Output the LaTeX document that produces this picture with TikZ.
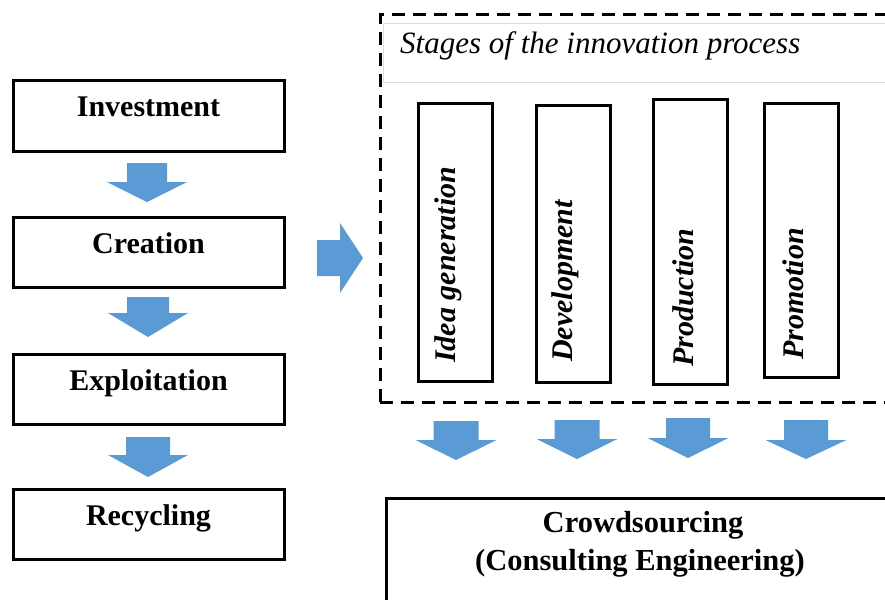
\documentclass[tikz,border=0pt]{standalone}
\usepackage{fontspec}
\setmainfont{Liberation Serif}
\definecolor{arrowblue}{HTML}{5B9BD5}
\definecolor{boxgrey}{HTML}{DDDDDD}
% block arrow pointing down: name, cx, top, stem half width, head start, head half width, tip
\newcommand{\blkdown}[7]{%
  \fill[blockarrow] ({#2-#4},#3) -- ({#2+#4},#3) -- ({#2+#4},#5) -- ({#2+#6},#5)
    -- (#2,#7) coordinate (#1) -- ({#2-#6},#5) -- ({#2-#4},#5) -- cycle;}
\begin{document}
\begin{tikzpicture}[x=1pt,y=-1pt,
  leftbox/.style={draw, line width=3pt, inner sep=0pt, text width=271pt, align=center,
    text height=36pt, text depth=34pt, anchor=base,
    font=\fontsize{30}{36}\selectfont\bfseries},
  stagebox/.style={draw, line width=2.6pt, minimum width=74.4pt, inner sep=0pt},
  vlbl/.style={font=\fontsize{30}{36}\selectfont\bfseries\itshape, rotate=90,
    anchor=base west, inner sep=0pt},
  lbl/.style={font=\fontsize{30.5}{36}\selectfont\bfseries, anchor=base, inner sep=0pt},
  dashframe/.style={line width=3pt, dash pattern=on 13pt off 8pt},
  blockarrow/.style={fill=arrowblue}]
\useasboundingbox (0,0) rectangle (885,599);
\clip (0,0) rectangle (885,599);

% left column
\node[leftbox] (inv) at (148.5,117) {Investment};
\node[leftbox] (cre) at (148.5,253) {Creation};
\node[leftbox] (exp) at (148.5,390) {Exploitation};
\node[leftbox] (rec) at (148.5,525) {Recycling};

\blkdown{a1}{147}{163}{20}{182}{40}{202}
\blkdown{a2}{148}{297}{21}{313}{40}{337}
\blkdown{a3}{148}{437}{22}{455}{40}{477}

% right arrow
\fill[blockarrow] (317,240) -- (340,240) -- (340,223) -- (363,258) coordinate (ar)
  -- (340,293) -- (340,276) -- (317,276) -- cycle;

% dashed frame
\draw[dashframe] (380,402) -- (380,15) -- (900,15);
\draw[dashframe] (380,402) -- (900,402);

% title box
\node[draw=boxgrey, line width=0.8pt, anchor=north west, minimum width=600pt,
  minimum height=59pt, inner sep=0pt] (titlebox) at (383,23) {};
\node[font=\fontsize{31}{36}\selectfont\itshape, anchor=base west, inner sep=0pt]
  (stages) at (400,54) {Stages of the innovation process};

% stage boxes
\node[stagebox, minimum height=278.4pt] (s1) at (455.5,242.5) {};
\node[stagebox, minimum height=277.4pt] (s2) at (573.5,244) {};
\node[stagebox, minimum height=285.4pt] (s3) at (690.5,242) {};
\node[stagebox, minimum height=274.4pt] (s4) at (801.5,240.5) {};
\node[vlbl] (t1) at (455,363) {Idea generation};
\node[vlbl] (t2) at (572,362) {Development};
\node[vlbl] (t3) at (693,367) {Production};
\node[vlbl] (t4) at (803,360) {Promotion};

% bottom arrows
\blkdown{b1}{456}{421}{22.5}{440}{40.5}{460}
\blkdown{b2}{577}{420}{22.5}{439}{40.5}{459}
\blkdown{b3}{688}{418}{22}{438}{40.5}{458}
\blkdown{b4}{806}{420}{22}{440}{40.5}{459}

% crowdsourcing box
\node[draw, line width=3pt, anchor=north west, minimum width=560pt,
  minimum height=150pt, inner sep=0pt] (crowd) at (384.5,496.5) {};
\node[lbl] (c1) at (643,532) {Crowdsourcing};
\node[lbl] (c2) at (640,570) {(Consulting Engineering)};
\end{tikzpicture}
\end{document}
